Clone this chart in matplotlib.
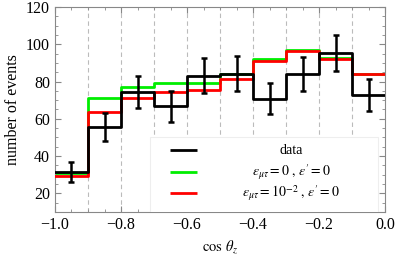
import matplotlib
matplotlib.use("Agg")
import matplotlib.pyplot as plt
import numpy as np
from matplotlib.patches import Rectangle
from matplotlib.ticker import MultipleLocator

# ── Data ──────────────────────────────────────────────────────────────────────
bin_edges = [-1.0, -0.9, -0.8, -0.7, -0.6, -0.5, -0.4, -0.3, -0.2, -0.1, 0.0]
data_counts = [31.5, 55.7, 74.2, 66.6, 83.2, 84.3, 70.8, 84.1, 95.1, 72.8]
data_err = [5.5, 7.5, 8.5, 8.3, 9.2, 9.2, 8.5, 9.2, 9.7, 8.5]
sm_counts = [31.0, 71.4, 77.3, 79.1, 79.1, 84.0, 91.9, 96.9, 92.4, 83.8]
nsi_counts = [29.3, 63.6, 71.0, 74.2, 75.7, 81.6, 91.0, 96.2, 91.9, 83.8]

labels = ["data",
          r"$\epsilon_{\mu\tau} = 0\;,\,\epsilon^{\prime} = 0$",
          r"$\epsilon_{\mu\tau} = 10^{-2}\;,\,\epsilon^{\prime} = 0$"]
colors = ["black", "#00ee00", "#ff0000"]

plt.rcParams["font.family"] = ["Liberation Serif", "DejaVu Serif"]
plt.rcParams["mathtext.fontset"] = "stix"

fig = plt.figure(figsize=(4.15, 2.6), dpi=100)
ax = fig.add_axes([0.1325, 0.185, 0.7955, 0.788])

edges = np.array(bin_edges)
centers = 0.5 * (edges[:-1] + edges[1:])

# ── Grid lines at bin edges ───────────────────────────────────────────────────
for e in edges[1:-1]:
    ax.axvline(e, color="#bbbbbb", lw=0.8, ls=(0, (4, 3)), zorder=0)

# ── Histograms ────────────────────────────────────────────────────────────────
def steps(vals):
    return np.append(vals, vals[-1])

ax.step(edges, steps(sm_counts), where="post", color=colors[1], lw=2, zorder=2)
ax.step(edges, steps(nsi_counts), where="post", color=colors[2], lw=2, zorder=3)
ax.step(edges, steps(data_counts), where="post", color=colors[0], lw=2, zorder=4)
ax.errorbar(centers, data_counts, yerr=data_err, fmt="none", ecolor="black",
            elinewidth=1.8, capsize=2.5, capthick=1.8, zorder=5)

# ── Legend (drawn by hand: handles left, labels centred) ─────────────────────
box = Rectangle((0.288, 0.0), 0.69, 0.365, transform=ax.transAxes,
                facecolor="white", edgecolor="#eeeeee", lw=0.8, zorder=6)
ax.add_patch(box)
row_y = [0.30, 0.193, 0.09]
for y, c, lab in zip(row_y, colors, labels):
    ax.plot([0.348, 0.43], [y, y], color=c, lw=2, transform=ax.transAxes,
            zorder=7, solid_capstyle="butt")
    ax.text(0.715, y, lab, transform=ax.transAxes, ha="center", va="center",
            fontsize=10, zorder=7)

# ── Axes styling ──────────────────────────────────────────────────────────────
ax.set_xlim(-1.0, 0.0)
ax.set_ylim(10, 120)
ax.xaxis.set_major_locator(MultipleLocator(0.2))
ax.xaxis.set_minor_locator(MultipleLocator(0.05))
ax.yaxis.set_major_locator(MultipleLocator(20))
ax.yaxis.set_minor_locator(MultipleLocator(5))
ax.xaxis.set_major_formatter(plt.FuncFormatter(lambda v, p: f"{v:.1f}".replace("-", "\u2212")))
ax.tick_params(which="both", direction="in", top=True, right=True,
               color="#888888", labelsize=11.5)
ax.tick_params(which="major", length=4)
ax.tick_params(which="minor", length=2)
for s in ax.spines.values():
    s.set_color("#888888")
ax.set_xlabel(r"$\cos\,\theta_z$", fontsize=10.5)
ax.set_ylabel("number of events", fontsize=11.5)

fig.savefig("out.png", dpi=100)
